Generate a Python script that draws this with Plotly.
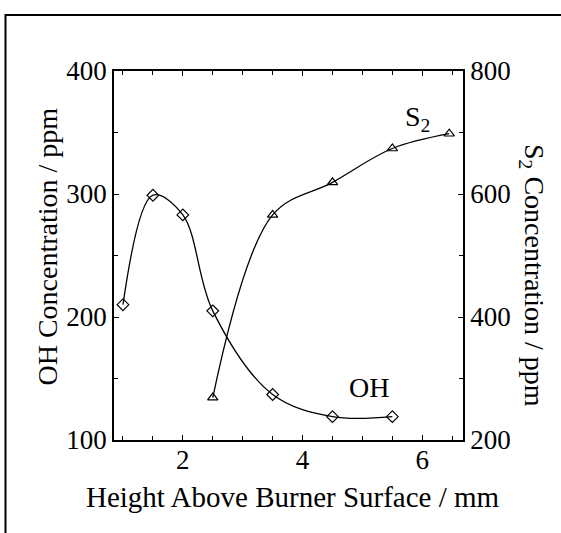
import plotly.graph_objects as go

# ---- data ----
height_oh = [1.0, 1.5, 2.0, 2.5, 3.5, 4.5, 5.5]
oh_ppm = [210, 299, 283, 205, 137, 119, 119]
height_s2 = [2.5, 3.5, 4.5, 5.5, 6.45]
s2_ppm = [269, 566, 619, 674, 698]

x_ticks = [2, 4, 6]
oh_ticks = [100, 200, 300, 400]
s2_ticks = [200, 400, 600, 800]

FONT = "Liberation Serif"
W, H = 561, 533
L, R, T, B = 114, 98, 71, 93

fig = go.Figure()
fig.add_trace(go.Scatter(
    x=height_oh, y=oh_ppm, mode="lines+markers", name="OH",
    line=dict(color="black", width=1.3, shape="spline", smoothing=1.0),
    marker=dict(symbol="diamond-open", size=9, color="black", line=dict(width=1.2)),
    yaxis="y"))
fig.add_trace(go.Scatter(
    x=height_s2, y=s2_ppm, mode="lines+markers", name="S2",
    line=dict(color="black", width=1.3, shape="spline", smoothing=1.0),
    marker=dict(symbol="triangle-up-open", size=9, color="black", line=dict(width=1.2)),
    yaxis="y2"))

tickfont = dict(family=FONT, size=27, color="black")
fig.update_layout(
    width=W, height=H, autosize=False,
    margin=dict(l=L, r=R, t=T, b=B, pad=0),
    paper_bgcolor="white", plot_bgcolor="white",
    showlegend=False,
    font=dict(family=FONT, color="black"),
    xaxis=dict(range=[0.85, 6.68], tickvals=x_ticks, ticks="inside", ticklen=5,
               tickwidth=1.2, tickcolor="black", showline=True, linecolor="black",
               linewidth=1.5, mirror="ticks", showgrid=False, zeroline=False,
               tickfont=tickfont, ticklabelstandoff=-5,
               minor=dict(dtick=0.5, tick0=0, ticks="inside", ticklen=4,
                          tickcolor="black", tickwidth=1, showgrid=False)),
    yaxis=dict(range=[100, 400], tickvals=oh_ticks, ticks="inside", ticklen=5,
               tickwidth=1.2, tickcolor="black", showline=True, linecolor="black",
               linewidth=1.5, showgrid=False, zeroline=False, tickfont=tickfont,
               minor=dict(dtick=50, tick0=0, ticks="inside", ticklen=4,
                          tickcolor="black", tickwidth=1, showgrid=False)),
    yaxis2=dict(range=[200, 800], tickvals=s2_ticks, overlaying="y", side="right",
                ticks="inside", ticklen=5, tickwidth=1.2, tickcolor="black",
                showline=True, linecolor="black", linewidth=1.5, showgrid=False,
                zeroline=False, tickfont=tickfont,
                minor=dict(dtick=100, tick0=0, ticks="inside", ticklen=4,
                           tickcolor="black", tickwidth=1, showgrid=False)),
)

pw = W - L - R
ph = H - T - B
def px(xp):
    return (xp - L) / pw
def py(yp):
    return (H - B - yp) / ph

title_font = dict(family=FONT, size=28, color="black")
fig.add_annotation(text="Height Above Burner Surface / mm", xref="paper", yref="paper",
                   x=px(293), y=py(497), xanchor="center", yanchor="middle",
                   showarrow=False, font=dict(family=FONT, size=29, color="black"))
fig.add_annotation(text="OH Concentration / ppm", xref="paper", yref="paper",
                   x=px(46.5), y=py(247), xanchor="center", yanchor="middle",
                   textangle=-90, showarrow=False, font=title_font)
fig.add_annotation(text="S<sub>2</sub> Concentration / ppm", xref="paper", yref="paper",
                   x=px(533), y=py(275), xanchor="center", yanchor="middle",
                   textangle=90, showarrow=False, font=title_font)
fig.add_annotation(text="S<sub>2</sub>", xref="paper", yref="paper",
                   x=px(417), y=py(118), xanchor="center", yanchor="middle",
                   showarrow=False, font=title_font)
fig.add_annotation(text="OH", xref="paper", yref="paper",
                   x=px(368.5), y=py(387), xanchor="center", yanchor="middle",
                   showarrow=False, font=title_font)

# outer frame (left and top edges visible in the reference)
fig.add_shape(type="rect", xref="paper", yref="paper",
              x0=px(5.5), x1=px(600), y0=py(600), y1=py(15),
              line=dict(color="black", width=2), layer="above")

fig.write_html("out.html")
